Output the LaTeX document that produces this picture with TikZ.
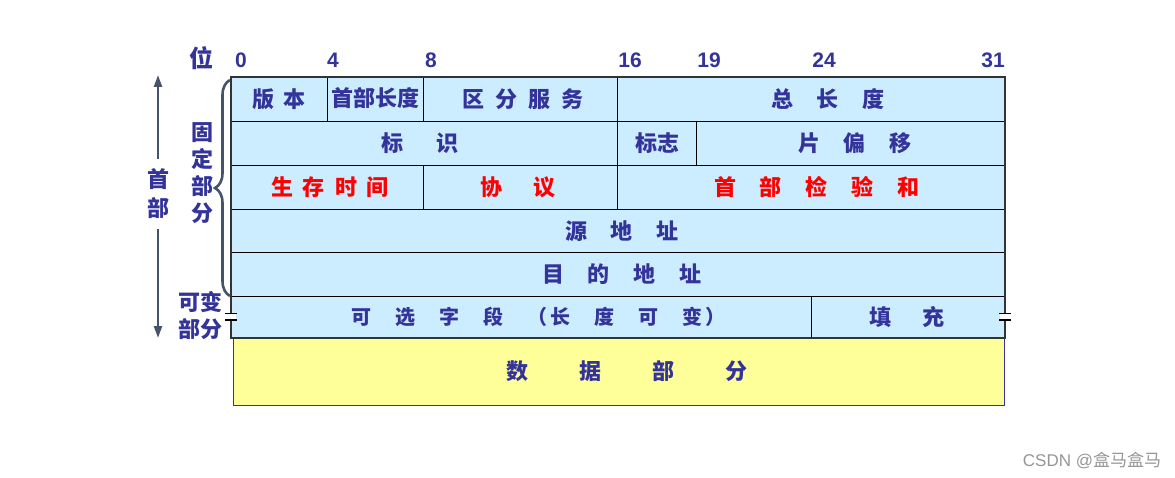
\documentclass[tikz,border=0pt]{standalone}
\usepackage{fontspec}
\setmainfont{Liberation Sans}
\newfontfamily\cjk{Noto Sans CJK SC}
\usetikzlibrary{arrows.meta, decorations.pathreplacing}
\definecolor{ipblue}{RGB}{51,51,153}
\definecolor{ipred}{RGB}{255,0,0}
\definecolor{ipcell}{RGB}{204,236,255}
\definecolor{ipdata}{RGB}{255,255,153}
\definecolor{ipslate}{RGB}{68,84,106}
\definecolor{ipmark}{RGB}{150,150,150}

\begin{document}
\begin{tikzpicture}[x=1pt, y=-1pt,
    field/.style={font=\cjk\bfseries\fontsize{22}{24}\selectfont, text=ipblue, inner sep=0pt},
    hot/.style={field, text=ipred},
    bitno/.style={font=\bfseries\fontsize{21}{24}\selectfont, text=ipblue, inner sep=0pt},
    side/.style={font=\cjk\bfseries\fontsize{22}{27}\selectfont, text=ipblue, inner sep=0pt, align=center}]
  \useasboundingbox (0,0) rectangle (1175,478);

  % header words
  \fill[ipcell] (231,77) rectangle (1005,338);
  \foreach \y in {121,165,209,252,296}
    \draw[thin] (231,\y) -- (1005,\y);
  \foreach \x/\a/\b in {327/77/121, 423/77/121, 617/77/165, 696/121/165,
                        423/165/209, 617/165/209, 811/296/340}
    \draw[thin] (\x,\a) -- (\x,\b);
  % data part
  \draw[ipblue, fill=ipdata] (233,338) rectangle (1004,405);
  \draw[line width=2.2pt, black!80] (231,77) rectangle (1005,338);
  \foreach \x in {231,1005} {
    \fill[white] (\x-5,314) rectangle (\x+5,320);
    \draw[line width=1.3pt] (\x-6,313.5) -- (\x+6,313.5) (\x-6,320) -- (\x+6,320);
  }

  % bit numbers
  \node[field, font=\cjk\bfseries\fontsize{24}{26}\selectfont] (wei) at (201,58) {位};
  \foreach \b/\x in {0/241, 4/333, 8/431, 16/630, 19/709, 24/824, 31/993}
    \node[bitno] (bit\b) at (\x,60) {\b};

  % fields
  \node[field] (ver) at (279,99) {版\hspace{10pt}本};
  \node[field] (ihl) at (375,98) {首部长度};
  \node[field] (tos) at (523,99) {区\hspace{11pt}分\hspace{11pt}服\hspace{11pt}务};
  \node[field] (totlen) at (828,99) {总\hspace{24pt}长\hspace{24pt}度};
  \node[field] (ident) at (420,143) {标\hspace{34pt}识};
  \node[field] (flags) at (657,143) {标志};
  \node[field] (fragoff) at (855,143) {片\hspace{24pt}偏\hspace{24pt}移};
  \node[hot] (ttl) at (330,187) {生\hspace{10pt}存\hspace{10pt}时\hspace{10pt}间};
  \node[hot] (proto) at (518,187) {协\hspace{32pt}议};
  \node[hot] (chksum) at (817,187) {首\hspace{24pt}部\hspace{24pt}检\hspace{24pt}验\hspace{24pt}和};
  \node[field] (srcaddr) at (622,231) {源\hspace{24pt}地\hspace{24pt}址};
  \node[field] (dstaddr) at (622,274) {目\hspace{24pt}的\hspace{24pt}地\hspace{24pt}址};
  \node[field, font=\cjk\bfseries\fontsize{20}{24}\selectfont] (opts) at (538,317)
    {可\hspace{24pt}选\hspace{24pt}字\hspace{24pt}段\hspace{24pt}（\hspace{3pt}长\hspace{24pt}度\hspace{24pt}可\hspace{24pt}变\hspace{3pt}）};
  \node[field] (pad) at (907,317) {填\hspace{32pt}充};
  \node[field] (payload) at (627,371) {数\hspace{51pt}据\hspace{51pt}部\hspace{51pt}分};

  % left side
  \node[side] (fixed) at (202,173) {固\\定\\部\\分};
  \node[side] (var) at (200,316) {可变\\部分};
  \node[side, inner ysep=10pt, font=\cjk\bfseries\fontsize{22}{29}\selectfont] (hdr) at (158,194) {首\\部};
  \coordinate (hdrtop) at (158,75);
  \coordinate (hdrbot) at (158,338);
  \draw[ipslate, line width=2.4pt, -{Triangle[length=12pt,width=8pt]}] (hdr.north) -- (hdrtop);
  \draw[ipslate, line width=2.4pt, -{Triangle[length=12pt,width=8pt]}] (hdr.south) -- (hdrbot);
  \draw[ipslate, line width=2.6pt, decorate, decoration={brace, amplitude=15pt}] (230,296) -- (230,80);

  \node[font=\fontsize{17}{20}\selectfont, text=ipmark, inner sep=0pt] (mark) at (1092,460)
    {CSDN @{\cjk 盒马盒马}};
\end{tikzpicture}
\end{document}
